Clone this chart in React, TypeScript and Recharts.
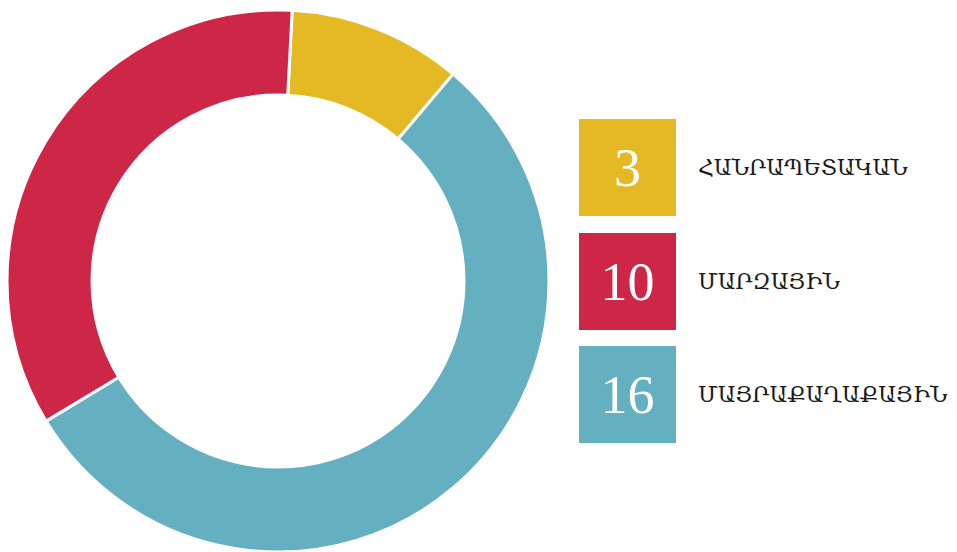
import { Cell, Pie, PieChart } from "recharts"

const categories = ["ՀԱՆՐԱՊԵՏԱԿԱՆ", "ՄԱՐԶԱՅԻՆ", "ՄԱՅՐԱՔԱՂԱՔԱՅԻՆ"]
const values = [3, 10, 16]
const colors = ["#E4B923", "#CD2647", "#64AFC0"]
// clockwise order of slices, starting just right of 12 o'clock
const sliceOrder = [0, 2, 1]

const pieData = sliceOrder.map((i) => ({ name: categories[i], value: values[i], color: colors[i] }))

export default function App() {
  return (
    <div style={{ position: "absolute", left: 0, top: 0, width: 957, height: 552, background: "#fff" }}>
      <PieChart width={957} height={552} margin={{ top: 0, right: 0, bottom: 0, left: 0 }}>
        <Pie
          data={pieData}
          dataKey="value"
          cx={278}
          cy={281}
          innerRadius={186}
          outerRadius={271}
          startAngle={87}
          endAngle={-273}
          stroke="#fff"
          strokeWidth={3}
          isAnimationActive={false}
        >
          {pieData.map((entry, index) => (
            <Cell key={`cell-${index}`} fill={entry.color} />
          ))}
        </Pie>
      </PieChart>
      {categories.map((name, i) => (
        <div
          key={name}
          style={{ position: "absolute", left: 579, top: [119, 233, 346][i], display: "flex", alignItems: "center" }}
        >
          <div
            style={{
              width: 97,
              height: 97,
              background: colors[i],
              color: "#fff",
              fontFamily: "'Liberation Serif', 'DejaVu Serif', serif",
              fontSize: 54,
              display: "flex",
              alignItems: "center",
              justifyContent: "center",
            }}
          >
            {values[i]}
          </div>
          <span
            style={{
              marginLeft: 22,
              fontFamily: "'DejaVu Serif', serif",
              fontSize: 22,
              color: "#1a1a1a",
            }}
          >
            {name}
          </span>
        </div>
      ))}
    </div>
  )
}
